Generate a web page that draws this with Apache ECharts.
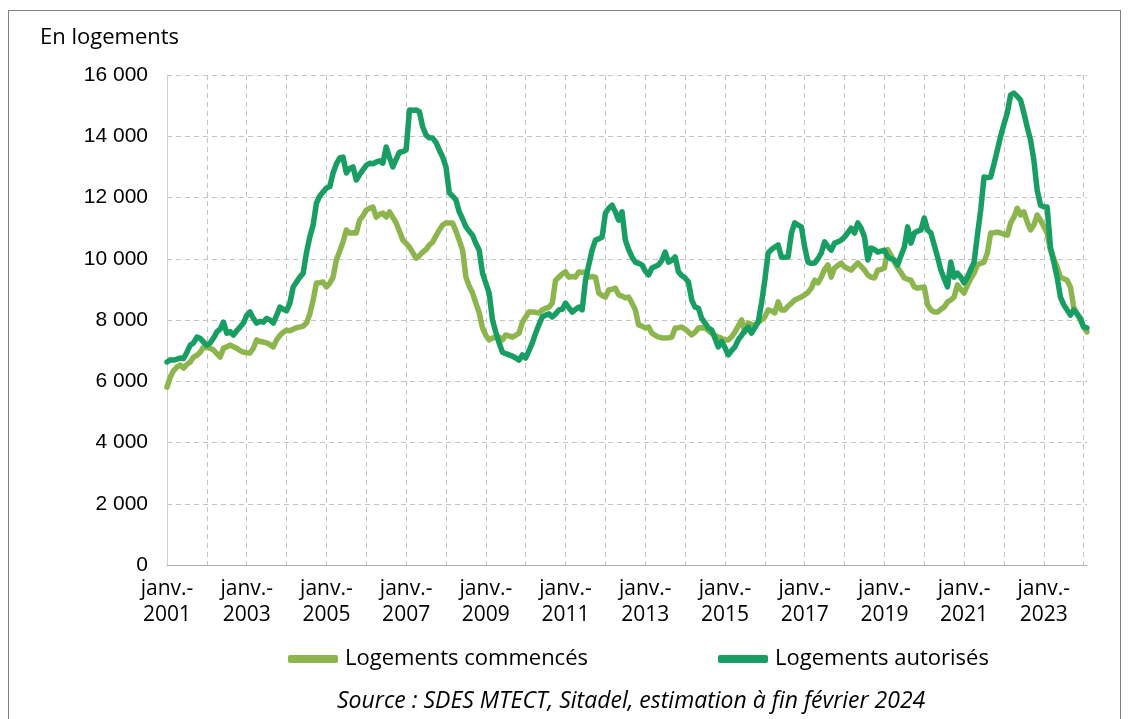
<!DOCTYPE html>
<html>
<head>
<meta charset="utf-8">
<script src="https://cdn.jsdelivr.net/npm/echarts@6/dist/echarts.min.js"></script>
<style>
  html, body { margin: 0; padding: 0; background: #fff; }
  #frame { position: absolute; left: 8px; top: 10px; width: 1113px; height: 720px; border: 1px solid #808080; box-sizing: border-box; }
  #chart { position: absolute; left: 0; top: 0; width: 1130px; height: 719px; }
</style>
</head>
<body>
<div id="frame"></div>
<div id="chart"></div>
<script>
// mois de janv. 2001 à févr. 2024
const years = [2001, 2002, 2003, 2004, 2005, 2006, 2007, 2008, 2009, 2010, 2011, 2012,
  2013, 2014, 2015, 2016, 2017, 2018, 2019, 2020, 2021, 2022, 2023, 2024]
const monthNames = ['janv.', 'févr.', 'mars', 'avr.', 'mai', 'juin', 'juil.', 'août', 'sept.', 'oct.', 'nov.', 'déc.']
const yTicks = [0, 2000, 4000, 6000, 8000, 10000, 12000, 14000, 16000]

// Logements commencés
const commences = [
  5810, 6140, 6350, 6470, 6530, 6430, 6550, 6630, 6790, 6850, 6950, 7120, // 2001
  7100, 7080, 7020, 6900, 6790, 7080, 7120, 7180, 7130, 7080, 7000, 6950, // 2002
  6930, 6920, 7080, 7350, 7300, 7280, 7250, 7200, 7120, 7350, 7500, 7600, // 2003
  7670, 7650, 7700, 7750, 7770, 7800, 7900, 8200, 8650, 9210, 9220, 9240, // 2004
  9080, 9200, 9400, 9960, 10250, 10550, 10940, 10840, 10850, 10840, 11260, 11400, // 2005
  11590, 11650, 11690, 11360, 11450, 11490, 11360, 11530, 11350, 11170, 10900, 10610, // 2006
  10500, 10380, 10200, 10020, 10100, 10220, 10300, 10450, 10550, 10750, 10940, 11100, // 2007
  11170, 11170, 11170, 10900, 10600, 10280, 9400, 9100, 8880, 8550, 8230, 7740, // 2008
  7500, 7350, 7410, 7430, 7440, 7350, 7510, 7480, 7440, 7500, 7570, 7930, // 2009
  8100, 8260, 8260, 8250, 8230, 8330, 8380, 8420, 8550, 9300, 9400, 9500, // 2010
  9570, 9400, 9420, 9400, 9570, 9550, 9570, 9400, 9420, 9400, 8880, 8800, // 2011
  8750, 8980, 9000, 9040, 8820, 8780, 8720, 8750, 8550, 8330, 7840, 7800, // 2012
  7740, 7770, 7570, 7500, 7440, 7420, 7410, 7420, 7440, 7740, 7750, 7770, // 2013
  7700, 7610, 7510, 7600, 7740, 7750, 7740, 7650, 7570, 7500, 7440, 7400, // 2014
  7350, 7350, 7450, 7610, 7800, 8000, 7610, 7900, 7850, 7840, 7930, 8000, // 2015
  8100, 8330, 8300, 8230, 8590, 8330, 8330, 8450, 8550, 8650, 8700, 8750, // 2016
  8820, 8900, 9040, 9300, 9210, 9400, 9650, 9800, 9400, 9700, 9780, 9860, // 2017
  9730, 9680, 9630, 9750, 9860, 9750, 9630, 9470, 9400, 9370, 9630, 9650, // 2018
  9700, 10300, 10120, 9890, 9700, 9550, 9370, 9330, 9300, 9080, 9040, 9060, // 2019
  9080, 8500, 8330, 8260, 8260, 8350, 8420, 8590, 8650, 8750, 9150, 9000, // 2020
  8880, 9140, 9350, 9530, 9800, 9850, 9890, 10190, 10840, 10850, 10870, 10840, // 2021
  10800, 10770, 11170, 11360, 11650, 11430, 11530, 11200, 10940, 11100, 11430, 11260, // 2022
  11050, 10840, 10280, 10000, 9730, 9400, 9350, 9300, 9080, 8420, 8200, 8000, // 2023
  7770, 7610 // 2024
]

// Logements autorisés
const autorises = [
  6630, 6700, 6690, 6720, 6760, 6740, 6950, 7180, 7250, 7440, 7400, 7280, // 2001
  7180, 7250, 7410, 7610, 7700, 7930, 7570, 7620, 7510, 7650, 7770, 7900, // 2002
  8150, 8260, 8050, 7900, 7950, 7930, 8050, 8000, 7900, 8150, 8420, 8350, // 2003
  8300, 8550, 9080, 9240, 9400, 9530, 10200, 10710, 11100, 11820, 12050, 12180, // 2004
  12310, 12350, 12800, 13100, 13290, 13320, 12800, 12950, 13000, 12570, 12750, 12900, // 2005
  13050, 13120, 13100, 13160, 13200, 13120, 13650, 13300, 13000, 13250, 13480, 13500, // 2006
  13550, 14860, 14850, 14860, 14800, 14300, 14040, 13950, 13940, 13800, 13550, 13320, // 2007
  13000, 12150, 12050, 11920, 11530, 11300, 11040, 10900, 10770, 10500, 10280, 9530, // 2008
  9200, 8880, 8000, 7600, 7250, 6950, 6900, 6860, 6820, 6760, 6690, 6860, // 2009
  6760, 7000, 7250, 7570, 7850, 8100, 8160, 8200, 8100, 8200, 8330, 8350, // 2010
  8550, 8400, 8260, 8350, 8420, 8330, 9300, 9800, 10280, 10610, 10650, 10710, // 2011
  11490, 11650, 11750, 11530, 11260, 11530, 10610, 10300, 10060, 9890, 9850, 9800, // 2012
  9600, 9470, 9700, 9750, 9800, 9950, 10220, 9890, 9950, 10060, 9570, 9450, // 2013
  9370, 9240, 8650, 8420, 8390, 8050, 7900, 7740, 7670, 7400, 7120, 7300, // 2014
  7100, 6860, 7000, 7120, 7350, 7500, 7650, 7770, 7570, 7750, 7930, 8550, // 2015
  9300, 10190, 10300, 10380, 10450, 10060, 10050, 10060, 10840, 11170, 11100, 11040, // 2016
  10380, 9890, 9850, 9860, 10000, 10190, 10550, 10400, 10280, 10510, 10550, 10610, // 2017
  10710, 10850, 11000, 10840, 11170, 11000, 10710, 9960, 10350, 10300, 10220, 10250, // 2018
  10280, 10060, 10000, 9960, 9800, 10100, 10380, 11040, 10510, 10840, 10900, 10940, // 2019
  11330, 10940, 10840, 10450, 10060, 9630, 9350, 9080, 9890, 9400, 9530, 9400, // 2020
  9210, 9400, 9650, 9890, 10770, 11590, 12670, 12650, 12670, 13100, 13550, 14000, // 2021
  14400, 14760, 15350, 15410, 15300, 15180, 14760, 14300, 13880, 13220, 12240, 11750, // 2022
  11700, 11690, 10380, 9900, 9400, 8750, 8500, 8330, 8160, 8330, 8200, 8060, // 2023
  7770, 7740 // 2024
]

const months = []
years.forEach(y => monthNames.forEach(m => months.push(m + '-\n' + y)))
months.length = commences.length

const fmt = v => String(v).replace(/\B(?=(\d{3})+(?!\d))/g, ' ')

const chart = echarts.init(document.getElementById('chart'))

const option = {
  animation: false,
  textStyle: { fontFamily: 'Open Sans' },
  grid: { left: 167, right: 43, top: 75, bottom: 154 },
  graphic: [
    {
      type: 'text', left: 40, top: 27,
      style: { text: 'En logements', font: '22px "Open Sans"', fill: '#000' }
    },
    {
      type: 'text', left: 337, top: 690,
      style: {
        text: 'Source : SDES MTECT, Sitadel, estimation à fin février 2024',
        font: 'italic 23px "Open Sans"', fill: '#000'
      }
    }
  ],
  legend: {
    left: 283, top: 643,
    itemGap: 130,
    itemWidth: 50, itemHeight: 8,
    icon: 'roundRect',
    textStyle: { fontSize: 22, color: '#000', fontFamily: 'Open Sans', padding: [0, 0, 0, 2] },
    data: ['Logements commencés', 'Logements autorisés']
  },
  xAxis: {
    type: 'category',
    data: months,
    boundaryGap: false,
    axisLine: { lineStyle: { color: '#b0b0b0', width: 1 } },
    axisTick: { show: false },
    axisLabel: {
      interval: (i) => i % 24 === 0,
      color: '#000', fontSize: 21, lineHeight: 26, margin: 11,
      fontFamily: 'Open Sans',
      formatter: (v) => v.startsWith('janv.') ? v : ''
    },
    splitLine: {
      show: true,
      interval: (i) => i % 12 === 0,
      lineStyle: { type: [5, 4], color: '#c4c4c4', width: 1 }
    }
  },
  yAxis: {
    type: 'value',
    min: yTicks[0], max: yTicks[yTicks.length - 1], interval: 2000,
    axisLine: { show: true, lineStyle: { color: '#d0d0d0' } },
    axisTick: { show: false },
    axisLabel: {
      color: '#000', fontSize: 21, margin: 19,
      fontFamily: 'Liberation Sans',
      formatter: fmt
    },
    splitLine: { lineStyle: { type: [5, 4], color: '#c4c4c4', width: 1 } }
  },
  series: [
    {
      name: 'Logements commencés',
      type: 'line',
      data: commences,
      showSymbol: false,
      lineStyle: { width: 5.5, color: '#8db54e', cap: 'round', join: 'round' },
      itemStyle: { color: '#8db54e' }
    },
    {
      name: 'Logements autorisés',
      type: 'line',
      data: autorises,
      showSymbol: false,
      lineStyle: { width: 5.5, color: '#189d62', cap: 'round', join: 'round' },
      itemStyle: { color: '#189d62' }
    }
  ]
}

chart.setOption(option)
</script>
</body>
</html>
